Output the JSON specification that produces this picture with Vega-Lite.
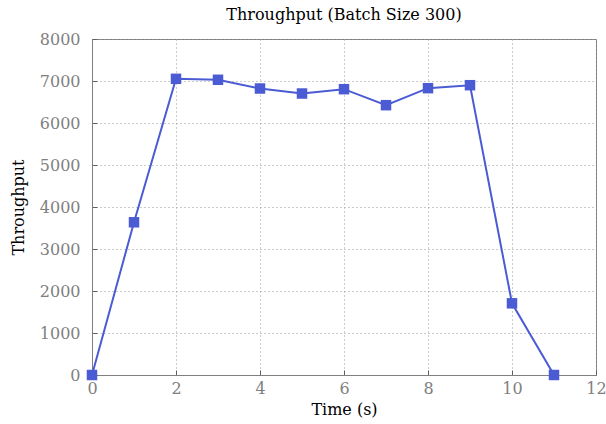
{
  "$schema": "https://vega.github.io/schema/vega-lite/v6.json",
  "width": 504,
  "height": 336,
  "autosize": "none",
  "padding": {"left": 92, "top": 39, "right": 10, "bottom": 49},
  "title": {"text": "Throughput (Batch Size 300)", "font": "DejaVu Serif", "fontSize": 16, "fontWeight": "normal", "color": "#000000", "offset": 8},
  "config": {
    "view": {"stroke": "#808080", "strokeWidth": 1},
    "axis": {
      "labelFont": "DejaVu Serif", "labelFontSize": 16, "labelColor": "#808080", "labelFlush": false,
      "titleFont": "DejaVu Serif", "titleFontSize": 16, "titleFontWeight": "normal", "titleColor": "#000000",
      "domainColor": "#808080", "tickColor": "#606060", "tickSize": -5, "tickWidth": 1,
      "gridColor": "#999999", "gridDash": [1, 3], "gridWidth": 1, "gridOpacity": 1
    }
  },
  "data": {"values": [
    {"t": 0, "v": 0},
    {"t": 1, "v": 3636},
    {"t": 2, "v": 7052},
    {"t": 3, "v": 7029},
    {"t": 4, "v": 6821},
    {"t": 5, "v": 6702},
    {"t": 6, "v": 6805},
    {"t": 7, "v": 6424},
    {"t": 8, "v": 6829},
    {"t": 9, "v": 6900},
    {"t": 10, "v": 1707},
    {"t": 11, "v": 0}
  ]},
  "encoding": {
    "x": {"field": "t", "type": "quantitative", "scale": {"domain": [0, 12], "nice": false},
      "axis": {"title": "Time (s)", "values": [0, 2, 4, 6, 8, 10, 12], "format": "d", "labelPadding": 10, "titlePadding": 5}},
    "y": {"field": "v", "type": "quantitative", "scale": {"domain": [0, 8000], "nice": false},
      "axis": {"title": "Throughput", "values": [0, 1000, 2000, 3000, 4000, 5000, 6000, 7000, 8000], "format": "d", "labelPadding": 17, "titlePadding": 13}}
  },
  "layer": [
    {"mark": {"type": "line", "color": "#4a5bd4", "strokeWidth": 2, "clip": false}},
    {"mark": {"type": "square", "color": "#4a5bd4", "size": 110, "opacity": 1, "filled": true, "clip": false}}
  ]
}
